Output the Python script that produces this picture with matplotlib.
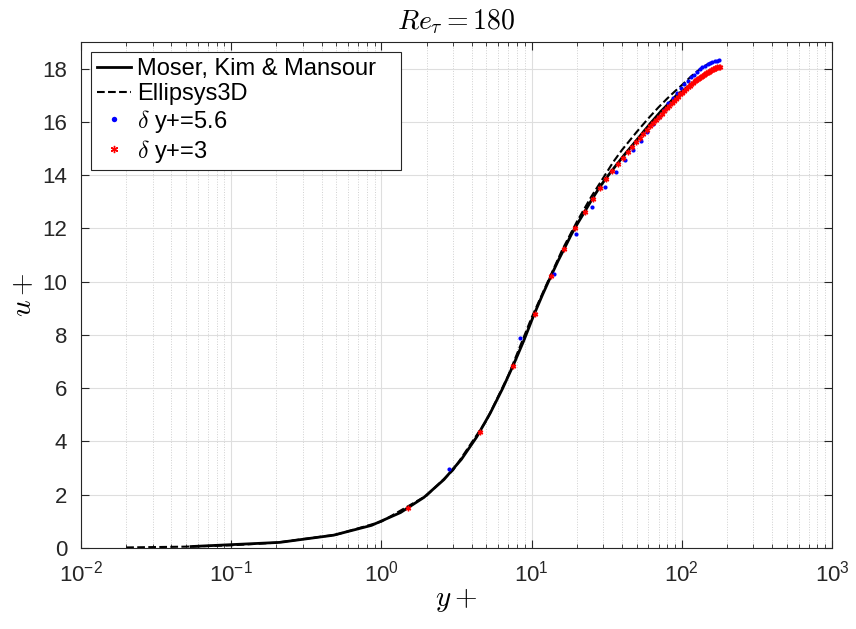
import matplotlib
matplotlib.use("Agg")
import matplotlib.pyplot as plt
from matplotlib.ticker import LogLocator, NullFormatter

plt.rcParams['font.family'] = ['Liberation Sans', 'DejaVu Sans']
plt.rcParams['mathtext.fontset'] = 'cm'

# Moser, Kim & Mansour DNS
mkm_yp = [0.054, 0.21, 0.48, 0.86, 1.34, 1.92, 2.61, 3.41, 4.31, 5.31, 6.40, 7.60, 8.89,
          10.3, 11.8, 13.3, 15.0, 16.7, 18.5, 20.4, 22.4, 24.5, 26.6, 28.8, 31.0, 33.3,
          35.7, 38.1, 40.6, 43.1, 45.7, 48.3, 50.9, 53.6, 56.3, 59.1, 61.8, 64.6, 67.4,
          70.1, 72.9, 75.7, 78.5, 81.3, 84.1, 86.8, 89.5, 92.2, 94.9, 97.5, 100.1, 105.2,
          110.1, 114.8, 119.2, 123.4, 127.3, 130.8, 135.6, 140.0, 145.0, 150.0, 155.0,
          160.0, 165.0, 170.0, 175.0, 178.0]
mkm_up = [0.054, 0.21, 0.48, 0.85, 1.33, 1.90, 2.57, 3.33, 4.17, 5.07, 5.98, 6.90, 7.80,
          8.72, 9.50, 10.15, 10.78, 11.30, 11.80, 12.22, 12.60, 12.97, 13.30, 13.60, 13.85,
          14.08, 14.30, 14.50, 14.70, 14.88, 15.05, 15.21, 15.37, 15.52, 15.67, 15.81,
          15.95, 16.07, 16.19, 16.30, 16.41, 16.50, 16.59, 16.68, 16.76, 16.84, 16.92,
          17.00, 17.06, 17.10, 17.14, 17.23, 17.32, 17.40, 17.47, 17.55, 17.61, 17.65,
          17.71, 17.76, 17.81, 17.86, 17.91, 17.96, 18.00, 18.03, 18.06, 18.07]

# Ellipsys3D
ell_yp = [0.02, 0.05, 0.1, 0.2, 0.5, 1.0, 2.0, 3.0, 5.0, 7.0, 10.0, 13.0, 16.0, 20.0,
          25.0, 30.0, 35.0, 40.0, 50.0, 60.0, 70.0, 80.0, 90.0, 100.0, 110.0, 120.0,
          135.0, 150.0, 165.0, 178.0]
ell_up = [0.02, 0.05, 0.1, 0.2, 0.5, 0.99, 1.97, 2.92, 4.78, 6.48, 8.65, 10.08, 11.2,
          12.25, 13.2, 13.9, 14.5, 14.95, 15.62, 16.14, 16.55, 16.88, 17.15, 17.38, 17.6,
          17.8, 18.02, 18.18, 18.27, 18.3]

# delta y+ = 5.6
b_yp = [2.8, 8.4, 14.0, 19.6, 25.2, 30.8, 36.4, 42.0, 47.6, 53.2, 58.8, 64.4, 70.0, 75.6,
        81.2, 86.8, 92.4, 98.0, 103.6, 109.2, 114.8, 120.4, 126.0, 131.6, 137.2, 142.8,
        148.4, 154.0, 159.6, 165.2, 170.8, 176.4]
b_up = [2.96, 7.87, 10.29, 11.80, 12.81, 13.54, 14.11, 14.56, 14.96, 15.30, 15.62, 15.92,
        16.20, 16.46, 16.70, 16.91, 17.09, 17.26, 17.41, 17.55, 17.67, 17.78, 17.88,
        17.97, 18.05, 18.11, 18.17, 18.22, 18.25, 18.28, 18.30, 18.31]

# delta y+ = 3
r_yp = [1.5, 4.5, 7.5, 10.5, 13.5, 16.5, 19.5, 22.5, 25.5, 28.5, 31.5, 34.5, 37.5, 40.5,
        43.5, 46.5, 49.5, 52.5, 55.5, 58.5, 61.5, 64.5, 67.5, 70.5, 73.5, 76.5, 79.5,
        82.5, 85.5, 88.5, 91.5, 94.5, 97.5, 100.5, 103.5, 106.5, 109.5, 112.5, 115.5,
        118.5, 121.5, 124.5, 127.5, 130.5, 133.5, 136.5, 139.5, 142.5, 145.5, 148.5,
        151.5, 154.5, 157.5, 160.5, 163.5, 166.5, 169.5, 172.5, 175.5, 178.5]
r_up = [1.49, 4.35, 6.84, 8.80, 10.20, 11.22, 12.00, 12.63, 13.12, 13.52, 13.86, 14.15,
        14.41, 14.65, 14.86, 15.05, 15.23, 15.39, 15.55, 15.70, 15.84, 15.96, 16.08,
        16.20, 16.31, 16.42, 16.52, 16.61, 16.70, 16.79, 16.87, 16.95, 17.03, 17.10,
        17.17, 17.24, 17.30, 17.36, 17.42, 17.47, 17.52, 17.57, 17.61, 17.65, 17.69,
        17.73, 17.77, 17.80, 17.83, 17.86, 17.89, 17.92, 17.95, 17.98, 18.00, 18.02,
        18.04, 18.06, 18.07, 18.08]

fig = plt.figure(figsize=(8.56, 6.29), dpi=100)
ax = fig.add_axes([0.0946, 0.1288, 0.8774, 0.8044])

ax.semilogx(mkm_yp, mkm_up, '-', color='k', lw=2.0, label='Moser, Kim & Mansour')
ax.semilogx(ell_yp, ell_up, '--', color='k', lw=1.5, label='Ellipsys3D')
ax.semilogx(b_yp, b_up, 'o', color='b', ms=3, mew=0, label=r'$\delta$ y+=5.6')
ax.semilogx(r_yp, r_up, ls='none', marker=(6, 2, 0), color='r', ms=4, mew=1.0,
            label=r'$\delta$ y+=3')

ax.set_xlim(1e-2, 1e3)
ax.set_ylim(0, 19)
ax.set_yticks(range(0, 19, 2))
ax.xaxis.set_minor_locator(LogLocator(base=10, subs=range(2, 10), numticks=20))
ax.xaxis.set_minor_formatter(NullFormatter())

ax.grid(True, which='major', color='#dedede', lw=0.8)
ax.grid(True, which='minor', axis='x', color='#d0d0d0', lw=0.7, ls=':')
ax.set_axisbelow(True)
ax.tick_params(which='both', direction='in', top=True, right=True, labelsize=16,
               colors='#262626')
ax.tick_params(which='major', length=6)
ax.tick_params(which='minor', length=3)
ax.tick_params(axis='x', which='major', pad=9)
ax.tick_params(axis='y', which='major', pad=10)
for sp in ax.spines.values():
    sp.set_color('#262626')
    sp.set_linewidth(0.8)

ax.set_xlabel('$y+$', fontsize=21, labelpad=0)
ax.set_ylabel('$u+$', fontsize=21, labelpad=4)
ax.set_title(r'$Re_\tau = 180$', fontsize=20, pad=9)

leg = ax.legend(loc='upper left', bbox_to_anchor=(0.0133, 0.0, 0.4128, 0.980),
                mode='expand', fontsize=17, fancybox=False, framealpha=1,
                edgecolor='#262626', borderaxespad=0.0, handlelength=1.45,
                handletextpad=0.25, labelspacing=0.12, borderpad=0.25, markerscale=1.3)
leg.get_frame().set_linewidth(0.8)

fig.savefig('out.png', dpi=100)
